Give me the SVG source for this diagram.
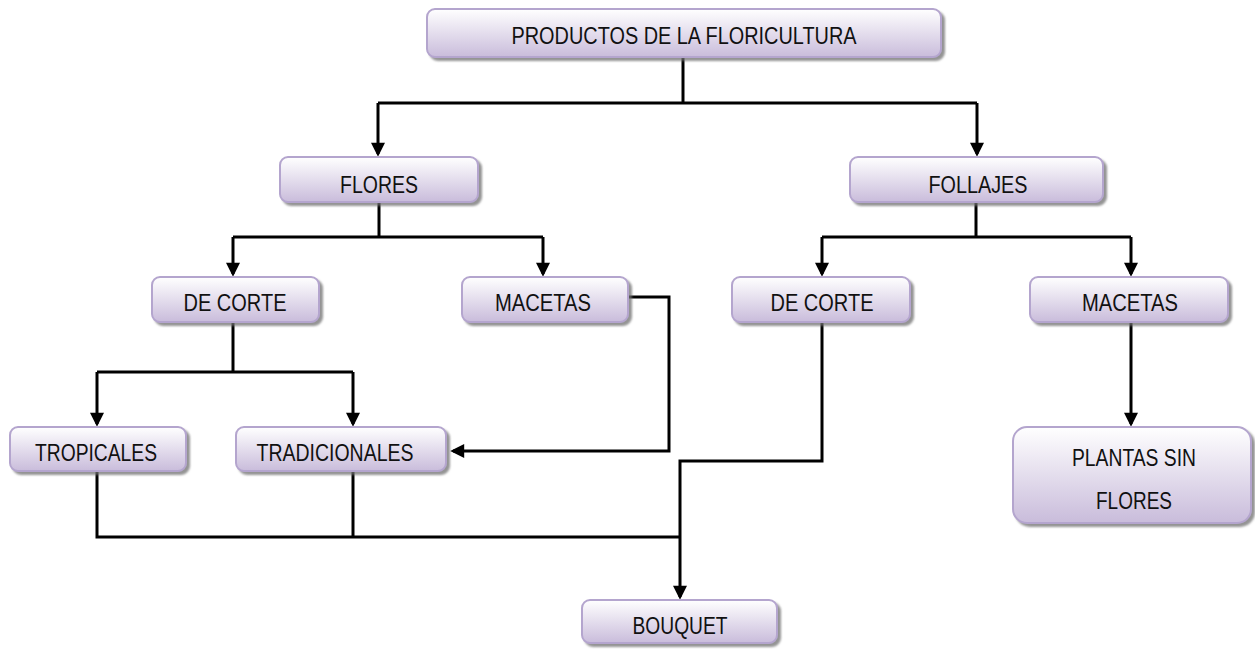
<svg xmlns="http://www.w3.org/2000/svg" width="1255" height="651" viewBox="0 0 1255 651">
<defs>
<linearGradient id="g" x1="0" y1="0" x2="0" y2="1">
<stop offset="0" stop-color="#ffffff"/>
<stop offset="1" stop-color="#c9bcdb"/>
</linearGradient>
<filter id="sh" x="-10%" y="-10%" width="130%" height="140%">
<feDropShadow dx="3" dy="3" stdDeviation="1" flood-color="#707070" flood-opacity="0.75"/>
</filter>
<marker id="arr" viewBox="0 0 10 10" refX="8" refY="5" markerWidth="16" markerHeight="14" markerUnits="userSpaceOnUse" orient="auto">
<path d="M0,0 L10,5 L0,10 z" fill="#000"/>
</marker>
</defs>
<style>
.box{fill:url(#g);stroke:#b4a5ce;stroke-width:2;filter:url(#sh)}
.t{font-family:"Liberation Sans Narrow","Liberation Sans",Arial,sans-serif;font-size:24px;fill:#111;text-anchor:middle}
.c{fill:none;stroke:#000;stroke-width:3}
.a{marker-end:url(#arr)}
</style>
<rect width="1255" height="651" fill="#ffffff"/>
<g id="connectors">
<path class="c" d="M683 57 V103"/>
<path class="c" d="M378 103 H977"/>
<path class="c a" d="M378 103 V154"/>
<path class="c a" d="M977 103 V154"/>
<path class="c" d="M379 202 V237"/>
<path class="c" d="M233 237 H543"/>
<path class="c a" d="M233 237 V274"/>
<path class="c a" d="M543 237 V274"/>
<path class="c" d="M976 202 V237"/>
<path class="c" d="M822 237 H1131"/>
<path class="c a" d="M822 237 V274"/>
<path class="c a" d="M1131 237 V274"/>
<path class="c" d="M233 322 V372"/>
<path class="c" d="M97 372 H353"/>
<path class="c a" d="M97 372 V424"/>
<path class="c a" d="M353 372 V424"/>
<path class="c a" d="M628 297 H669 V451 H453"/>
<path class="c" d="M97 471 V537 H680"/>
<path class="c" d="M353 471 V537"/>
<path class="c a" d="M822 322 V461 H680 V597"/>
<path class="c a" d="M1131 322 V424"/>
</g>
<g id="n-productos"><rect class="box" x="427" y="9" width="514" height="48" rx="8"/><text class="t" x="684" y="44" textLength="345" lengthAdjust="spacingAndGlyphs">PRODUCTOS DE LA FLORICULTURA</text></g>
<g id="n-flores"><rect class="box" x="280" y="157" width="198" height="45" rx="8"/><text class="t" x="379" y="193" textLength="78" lengthAdjust="spacingAndGlyphs">FLORES</text></g>
<g id="n-follajes"><rect class="box" x="850" y="157" width="253" height="45" rx="8"/><text class="t" x="978" y="193" textLength="99" lengthAdjust="spacingAndGlyphs">FOLLAJES</text></g>
<g id="n-decorte1"><rect class="box" x="152" y="277" width="167" height="45" rx="8"/><text class="t" x="235" y="311" textLength="103" lengthAdjust="spacingAndGlyphs">DE CORTE</text></g>
<g id="n-macetas1"><rect class="box" x="462" y="277" width="166" height="45" rx="8"/><text class="t" x="543" y="311" textLength="96" lengthAdjust="spacingAndGlyphs">MACETAS</text></g>
<g id="n-decorte2"><rect class="box" x="732" y="277" width="178" height="45" rx="8"/><text class="t" x="822" y="311" textLength="103" lengthAdjust="spacingAndGlyphs">DE CORTE</text></g>
<g id="n-macetas2"><rect class="box" x="1030" y="277" width="198" height="45" rx="8"/><text class="t" x="1130" y="311" textLength="96" lengthAdjust="spacingAndGlyphs">MACETAS</text></g>
<g id="n-tropicales"><rect class="box" x="10" y="427" width="176" height="44" rx="8"/><text class="t" x="96" y="461" textLength="122" lengthAdjust="spacingAndGlyphs">TROPICALES</text></g>
<g id="n-tradicionales"><rect class="box" x="236" y="427" width="210" height="44" rx="8"/><text class="t" x="335" y="461" textLength="157" lengthAdjust="spacingAndGlyphs">TRADICIONALES</text></g>
<g id="n-plantas"><rect class="box" x="1013" y="427" width="238" height="96" rx="14"/><text class="t" x="1134" y="466" textLength="124" lengthAdjust="spacingAndGlyphs">PLANTAS SIN</text><text class="t" x="1134" y="509" textLength="76" lengthAdjust="spacingAndGlyphs">FLORES</text></g>
<g id="n-bouquet"><rect class="box" x="582" y="600" width="195" height="43" rx="8"/><text class="t" x="680" y="634" textLength="95" lengthAdjust="spacingAndGlyphs">BOUQUET</text></g>
</svg>
